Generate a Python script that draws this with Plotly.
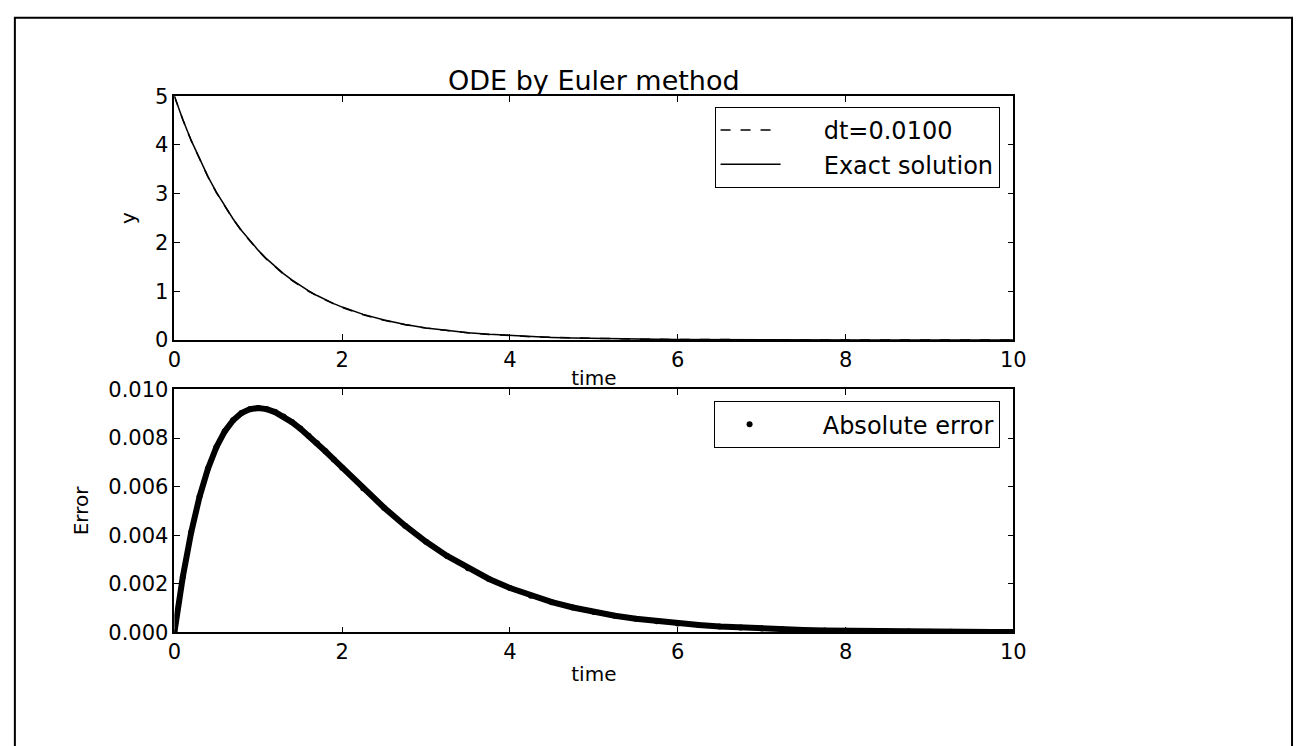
import plotly.graph_objects as go

# time samples (s)
time = [0.0, 0.1, 0.2, 0.3, 0.4, 0.5, 0.6, 0.7, 0.8, 0.9, 1.0,
        1.1, 1.2, 1.3, 1.4, 1.5, 1.6, 1.7, 1.8, 1.9, 2.0,
        2.25, 2.5, 2.75, 3.0, 3.25, 3.5, 3.75, 4.0, 4.25, 4.5, 4.75,
        5.0, 5.25, 5.5, 5.75, 6.0, 6.25, 6.5, 6.75, 7.0, 7.25, 7.5, 7.75,
        8.0, 8.25, 8.5, 8.75, 9.0, 9.25, 9.5, 9.75, 10.0]

# Euler solution, dt = 0.01
y_euler = [5.0, 4.5219, 4.0896, 3.6985, 3.3449, 3.0251, 2.7358, 2.4742, 2.2376, 2.0237, 1.8302,
           1.6552, 1.4969, 1.3538, 1.2243, 1.1073, 1.0014, 0.9056, 0.8190, 0.7407, 0.6699,
           0.5211, 0.4053, 0.3152, 0.2452, 0.1908, 0.1484, 0.1154, 0.0898, 0.0698, 0.0543, 0.0423,
           0.0329, 0.0255, 0.0198, 0.0154, 0.0120, 0.0094, 0.0073, 0.0057, 0.0044, 0.0035, 0.0027, 0.0021,
           0.0016, 0.0012, 0.0010, 0.0008, 0.0006, 0.0005, 0.0004, 0.0003, 0.0002]

# Exact solution
y_exact = [5.0, 4.5242, 4.0937, 3.7041, 3.3516, 3.0327, 2.7441, 2.4829, 2.2466, 2.0329, 1.8394,
           1.6644, 1.5060, 1.3627, 1.2330, 1.1157, 1.0095, 0.9134, 0.8265, 0.7478, 0.6767,
           0.5270, 0.4104, 0.3196, 0.2489, 0.1939, 0.1510, 0.1176, 0.0916, 0.0713, 0.0555, 0.0433,
           0.0337, 0.0262, 0.0204, 0.0159, 0.0124, 0.0097, 0.0075, 0.0059, 0.0046, 0.0036, 0.0028, 0.0022,
           0.0017, 0.0013, 0.0010, 0.0008, 0.0006, 0.0005, 0.0004, 0.0003, 0.0002]

# Absolute error
abs_error = [0.0, 0.002277, 0.004119, 0.005589, 0.006741, 0.007623, 0.008275, 0.008733, 0.009029, 0.009189, 0.009235,
             0.009190, 0.009069, 0.008888, 0.008658, 0.008392, 0.008098, 0.007783, 0.007455, 0.007118, 0.006778,
             0.005935, 0.005132, 0.004393, 0.003730, 0.003146, 0.002637, 0.002199, 0.001826, 0.001509, 0.001243, 0.001023,
             0.000837, 0.000683, 0.000557, 0.000454, 0.000369, 0.000300, 0.000241, 0.000196, 0.000158, 0.000127, 0.000102, 0.000082,
             0.000066, 0.000053, 0.000042, 0.000034, 0.000027, 0.000022, 0.000017, 0.000014, 0.000011]

x_ticks = [0, 2, 4, 6, 8, 10]
y_ticks_top = [0, 1, 2, 3, 4, 5]
y_ticks_bottom = [0.000, 0.002, 0.004, 0.006, 0.008, 0.010]

W, H = 1307, 746
FONT = "DejaVu Sans"
NB = "\u00a0"

def px_x(p):
    return p / W

def px_y(p):
    return (H - p) / H

fig = go.Figure()

fig.add_trace(go.Scatter(x=time, y=y_euler, mode="lines", name=NB * 5 + "dt=0.0100",
                         line=dict(color="black", width=1.5, dash="10px,10px"),
                         xaxis="x", yaxis="y", legend="legend"))
fig.add_trace(go.Scatter(x=time, y=y_exact, mode="lines", name=NB * 5 + "Exact solution",
                         line=dict(color="black", width=1.5),
                         xaxis="x", yaxis="y", legend="legend"))
fig.add_trace(go.Scatter(x=time, y=abs_error, mode="lines+markers", name="Absolute error",
                         line=dict(color="black", width=6),
                         marker=dict(color="black", size=6),
                         showlegend=False, xaxis="x2", yaxis="y2"))
fig.add_trace(go.Scatter(x=[None], y=[None], mode="markers", name=NB * 5 + "Absolute error",
                         marker=dict(color="black", size=6),
                         xaxis="x2", yaxis="y2", legend="legend2"))

axis_common = dict(showgrid=False, zeroline=False, showline=True, linecolor="black",
                   linewidth=1.5, mirror="allticks", ticks="inside", ticklen=6,
                   tickcolor="black", tickwidth=1,
                   tickfont=dict(family=FONT, size=21, color="black"))

dom_x = [px_x(170), px_x(1022)]
title_font = dict(family=FONT, size=20, color="black")

fig.update_layout(
    width=W, height=H,
    margin=dict(l=0, r=0, t=0, b=0),
    paper_bgcolor="white", plot_bgcolor="white",
    font=dict(family=FONT, color="black"),
    xaxis=dict(domain=dom_x, anchor="y", range=[0, 10], tickvals=x_ticks,
               title=dict(text="time", font=title_font, standoff=0), **axis_common),
    yaxis=dict(domain=[px_y(339), px_y(87)], anchor="x", range=[0, 5], tickvals=y_ticks_top,
               title=dict(text="y", font=title_font, standoff=14), **axis_common),
    xaxis2=dict(domain=dom_x, anchor="y2", range=[0, 10], tickvals=x_ticks,
                title=dict(text="time", font=title_font, standoff=4), **axis_common),
    yaxis2=dict(domain=[px_y(641), px_y(390)], anchor="x2", range=[0, 0.010], tickvals=y_ticks_bottom,
                tickformat=".3f",
                title=dict(text="Error", font=title_font, standoff=14), **axis_common),
    legend=dict(x=px_x(1008), y=px_y(98), xanchor="right", yanchor="top",
                bordercolor="black", borderwidth=1, bgcolor="white",
                font=dict(family=FONT, size=24, color="black"),
                itemwidth=60, tracegroupgap=0),
    legend2=dict(x=px_x(1008), y=px_y(402), xanchor="right", yanchor="top",
                 bordercolor="black", borderwidth=1, bgcolor="white",
                 font=dict(family=FONT, size=24, color="black"),
                 itemwidth=60),
    annotations=[dict(text="ODE by Euler method", x=px_x(596), y=px_y(71),
                      xref="paper", yref="paper", xanchor="center", yanchor="middle",
                      showarrow=False, font=dict(family=FONT, size=27, color="black"))],
    shapes=[dict(type="rect", xref="paper", yref="paper",
                 x0=px_x(8), x1=px_x(1305), y0=-0.02, y1=px_y(6),
                 line=dict(color="black", width=2), fillcolor="rgba(0,0,0,0)")],
)

fig.write_html("out.html")
